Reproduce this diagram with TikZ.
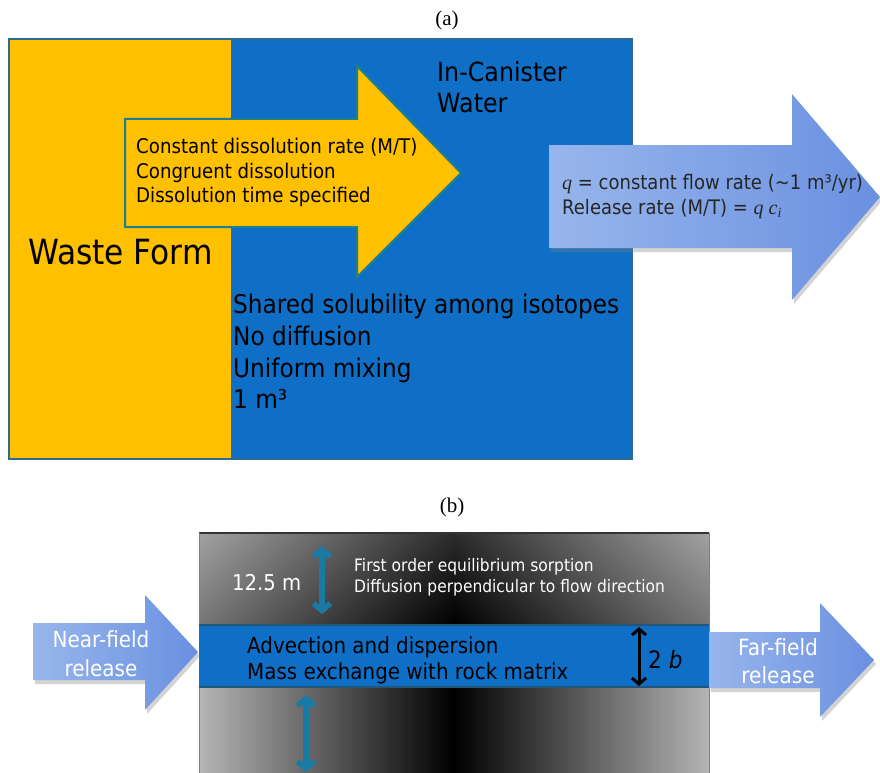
\documentclass[tikz,border=0pt]{standalone}
\usepackage{fontspec}
\setmainfont{DejaVu Sans}[FakeStretch=0.9]
\newfontfamily\seriffont{Liberation Serif}
\usetikzlibrary{arrows.meta,shadows}
\definecolor{wfyellow}{HTML}{FFC000}
\definecolor{canblue}{HTML}{0F6FC6}
\definecolor{boxedge}{HTML}{2B6A95}
\definecolor{tealedge}{HTML}{1E7F8E}
\definecolor{arrlight}{HTML}{98B6EC}
\definecolor{arrmid}{HTML}{4570D0}
\definecolor{arrright}{HTML}{6A90E0}
\definecolor{tealarrow}{HTML}{1A7AA6}
\definecolor{rockedge}{HTML}{B5B5B5}
\newcommand\fs[2]{\fontsize{#1}{#2}\selectfont}
\begin{document}
\begin{tikzpicture}[x=1pt,y=-1pt,
  txt/.style={inner sep=0pt, anchor=west, align=left},
  bluearrow/.style={left color=arrlight, middle color=arrmid, right color=arrright,
     drop shadow={shadow xshift=2pt, shadow yshift=-4pt, opacity=0.35}},
  dimarrow/.style={line width=5.5pt, {Straight Barb[length=7pt,width=17pt]}-{Straight Barb[length=7pt,width=17pt]}},
  lbl/.style={inner sep=0pt}]
\useasboundingbox (0,0) rectangle (880,773);
% ---------- (a)
\node[lbl,font=\seriffont\fs{21}{25}] (la) at (447,20) {(a)};
\fill[canblue] (231,39) rectangle (632,459);
\fill[wfyellow] (9,39) rectangle (231,459);
\draw[boxedge, line width=2.5pt] (9,39) rectangle (632,459);
\draw[tealedge, line width=2pt, fill=wfyellow]
  (125,119) -- (357,119) -- (357,66) -- (461,173) -- (357,277) -- (357,227) -- (125,227) -- cycle;
\node[txt,font=\fs{26.4}{31}] (can) at (437,87) {In-Canister\\Water};
\node[txt,font=\fs{20.2}{24.5}] (diss) at (136,172.5) {Constant dissolution rate (M/T)\\Congruent dissolution\\Dissolution time specified};
\node[txt,font=\fs{34.7}{40}] (wf) at (28,252) {Waste Form};
\node[txt,font=\fs{25.8}{31.6}] (props) at (233,351.5) {Shared solubility among isotopes\\No diffusion\\Uniform mixing\\1 m³};
\path[bluearrow] (549,145) -- (792,145) -- (792,94) -- (880,197) -- (792,300) -- (792,248) -- (549,248) -- cycle;
\node[txt,font=\fs{20}{25},text=black!85] (flow) at (562,196.5)
  {{\seriffont\itshape q} = constant flow rate (\textasciitilde1 m³/yr)\\Release rate (M/T) = {\seriffont\itshape q c\textsubscript{i}}};
% ---------- (b)
\node[lbl,font=\seriffont\fs{21}{25}] (lb) at (452,507) {(b)};
\shade[left color=rockedge, right color=rockedge, middle color=black] (199,533) rectangle (709,773);
\shade[top color=gray, bottom color=black, opacity=0.35] (199,533) rectangle (709,625);
\draw[black!80, line width=1.5pt] (199,533) -- (709,533);
\draw[black!50, line width=1pt] (199,533) -- (199,773) (709,533) -- (709,773);
\fill[canblue] (199,625) rectangle (709,687);
\draw[boxedge!80!black, line width=1.5pt] (199,625) -- (709,625) (199,687) -- (709,687);
\coordinate (ua1) at (322,546); \coordinate (ua2) at (322,614);
\coordinate (la1) at (306,695); \coordinate (la2) at (306,772);
\coordinate (ba1) at (639,627); \coordinate (ba2) at (639,686);
\draw[dimarrow, tealarrow] (ua1) -- (ua2);
\draw[dimarrow, tealarrow] (la1) -- (la2);
\draw[black, line width=3pt, {Straight Barb[length=6pt,width=14pt]}-{Straight Barb[length=6pt,width=14pt]}] (ba1) -- (ba2);
\node[txt,font=\fs{21.8}{25},text=white] (thick) at (232,583) {12.5 m};
\node[txt,font=\fs{17.2}{20.5},text=white] (sorp) at (354,577) {First order equilibrium sorption\\Diffusion perpendicular to flow direction};
\node[txt,font=\fs{22.1}{26}] (adv) at (247,660) {Advection and dispersion\\Mass exchange with rock matrix};
\node[txt,font=\fs{24}{25}] (ap) at (648,660) {2 \textit{b}};
\path[bluearrow] (33,623) -- (145,623) -- (145,595) -- (198,652) -- (145,710) -- (145,680) -- (33,680) -- cycle;
\node[lbl,align=center,font=\fs{22.2}{29},text=white] (near) at (101,653.5) {Near-field\\release};
\path[bluearrow] (709,632) -- (820,632) -- (820,603) -- (874,660) -- (820,717) -- (820,688) -- (709,688) -- cycle;
\node[lbl,align=center,font=\fs{22.4}{28},text=white] (far) at (778,661) {Far-field\\release};
\end{tikzpicture}
\end{document}
